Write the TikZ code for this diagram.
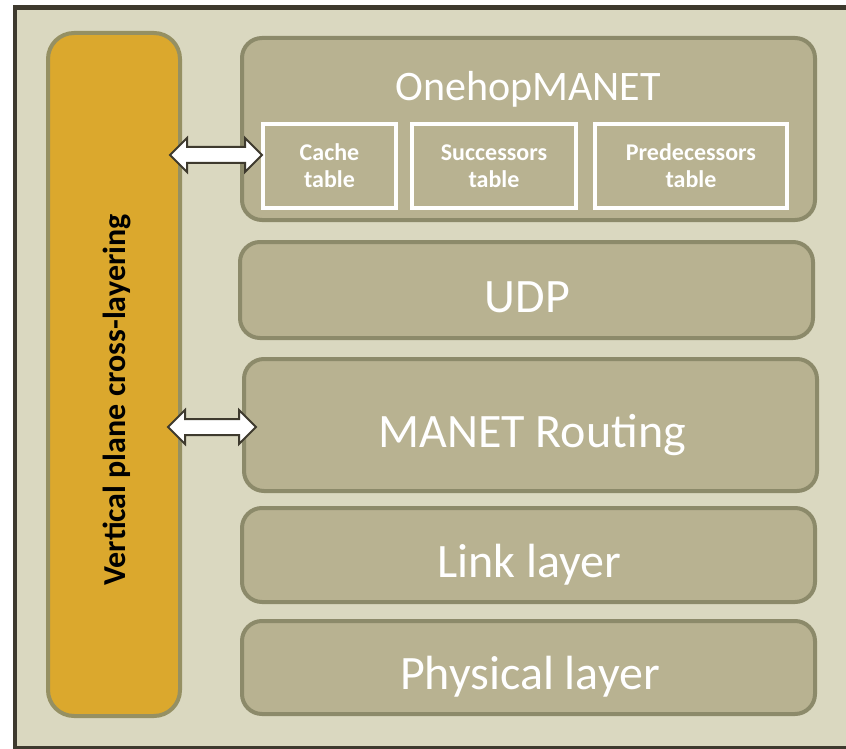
\documentclass[tikz,border=0pt]{standalone}
\usepackage{fontspec}
\setmainfont{Carlito}
\usetikzlibrary{shapes.arrows}
\definecolor{panelbg}{HTML}{DAD8C0}
\definecolor{framedark}{HTML}{3E3A2E}
\definecolor{layerfill}{HTML}{B8B291}
\definecolor{layerline}{HTML}{8C8A6A}
\definecolor{crossfill}{HTML}{DBA82D}
\definecolor{crossline}{HTML}{959063}

\begin{document}
\begin{tikzpicture}[x=1pt, y=-1pt,
    layer/.style={draw=layerline, line width=4pt, fill=layerfill, rounded corners=20pt,
        minimum width=573pt, inner sep=0pt},
    layertext/.style={anchor=base, text=white, font=\fontsize{48}{52}\selectfont},
    tablebox/.style={draw=white, line width=4pt, minimum height=84pt, inner sep=0pt,
        align=center, text=white, font=\bfseries\fontsize{24}{27}\selectfont},
    dblarrow/.style={double arrow, draw=framedark, fill=white, line width=2pt, inner sep=0pt,
        text height=7pt, text depth=7pt, double arrow head extend=9pt}]
    \useasboundingbox (0,0) rectangle (846,749);
    \draw[framedark, line width=4.5pt, fill=panelbg] (15,7.5) rectangle (880,748.5);

    % cross-layering bar
    \node[draw=crossline, line width=4pt, fill=crossfill, rounded corners=26pt,
        minimum width=132pt, minimum height=683pt, inner sep=0pt] (crossbar) at (114,374.5) {};
    \node[rotate=90, font=\bfseries\fontsize{32}{36}\selectfont] (crosstext) at (117,400)
        {Vertical plane cross-layering};

    % protocol stack
    \node[layer, minimum height=182pt] (onehop) at (528.5,129) {};
    \node[layertext, font=\fontsize{42}{46}\selectfont] (onehoptext) at (528,101) {OnehopMANET};
    \node[tablebox, minimum width=133pt] (cache) at (329.5,166) {Cache\\table};
    \node[tablebox, minimum width=164pt] (succ) at (494,166) {Successors\\table};
    \node[tablebox, minimum width=192pt] (pred) at (691,166) {Predecessors\\table};

    \node[layer, minimum height=96pt] (udp) at (526.5,290) {};
    \node[layertext] (udptext) at (527.5,312) {UDP};
    \node[layer, minimum height=132pt] (routing) at (530.5,425) {};
    \node[layertext] (routingtext) at (532,447) {MANET Routing};
    \node[layer, minimum height=94pt] (link) at (528.5,555) {};
    \node[layertext] (linktext) at (529,577) {Link layer};
    \node[layer, minimum height=93pt] (phys) at (528.5,667.5) {};
    \node[layertext] (physText) at (530,689) {Physical layer};

    % cross-layer arrows
    \node[dblarrow, minimum height=92pt] (cachearrow) at (216,155) {};
    \node[dblarrow, minimum height=88pt] (routingarrow) at (212,427) {};
\end{tikzpicture}
\end{document}
